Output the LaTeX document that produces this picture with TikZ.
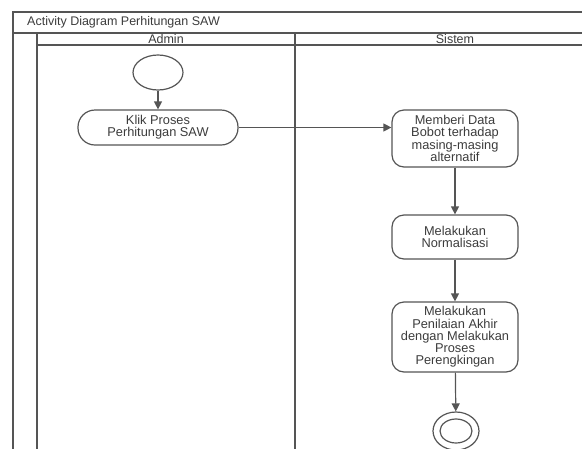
\documentclass[tikz,border=0pt]{standalone}
\usepackage{fontspec}
\setmainfont{Liberation Sans}
\usepackage{xcolor}
\usetikzlibrary{arrows.meta,shapes.geometric}
\definecolor{garis}{HTML}{555555}
\definecolor{tinta}{HTML}{3C3C3C}

\begin{document}
\begin{tikzpicture}[x=1pt,y=-1pt,
          bingkai/.style={draw=garis, line width=1.2pt},
          aksi/.style={draw=garis, line width=1.2pt, rounded corners=12pt, align=center, text=tinta,
            font=\fontsize{12.8}{12.2}\selectfont, inner sep=0pt, minimum width=126pt},
          label/.style={text=tinta, font=\fontsize{12.5}{12}\selectfont, inner sep=0pt},
          awal/.style={ellipse, draw=garis, line width=1.2pt, inner sep=0pt},
          alur/.style={draw=garis, line width=1.2pt, -{Triangle[length=8pt,width=8pt]}},
        ]
        \useasboundingbox (0,0) rectangle (582,448);
        \clip (0,0) rectangle (582,448);
        % swimlane
        \draw[bingkai] (13,12) rectangle (600,470);
        \draw[bingkai] (13,33) -- (600,33);
        \draw[bingkai] (37,45) -- (600,45);
        \draw[bingkai] (37,33) -- (37,470);
        \draw[bingkai] (295,33) -- (295,470);
        \node[label, anchor=west] (judul) at (27,22.5) {Activity Diagram Perhitungan SAW};
        \node[label] (admin) at (166,38.8) {Admin};
        \node[label] (sistem) at (455,38.8) {Sistem};
        % aktivitas
        \node[awal, minimum width=50pt, minimum height=35pt] (mulai) at (158,72.5) {};
        \node[aksi, minimum width=160pt, minimum height=35pt, rounded corners=17pt] (klik) at (158,127.5) {Klik Proses\\Perhitungan SAW};
        \node[aksi, minimum height=57pt] (bobot) at (455,138.5) {Memberi Data\\Bobot terhadap\\masing-masing\\alternatif};
        \node[aksi, minimum height=44pt] (normal) at (455,237) {Melakukan\\Normalisasi};
        \node[aksi, minimum height=70pt] (nilai) at (455,337) {Melakukan\\Penilaian Akhir\\dengan Melakukan\\Proses\\Perengkingan};
        \node[awal, minimum width=46pt, minimum height=38pt] (selesai) at (456,431) {};
        \node[awal, minimum width=32pt, minimum height=24pt] (selesaiDalam) at (456,431) {};
        % alur
        \draw[alur] (mulai) -- (klik);
        \draw[alur] (klik.east) -- (klik.east -| bobot.west);
        \draw[alur] (bobot) -- (normal);
        \draw[alur] (normal) -- (nilai);
        \draw[alur] (nilai) -- (selesai);
      \end{tikzpicture}
\end{document}
